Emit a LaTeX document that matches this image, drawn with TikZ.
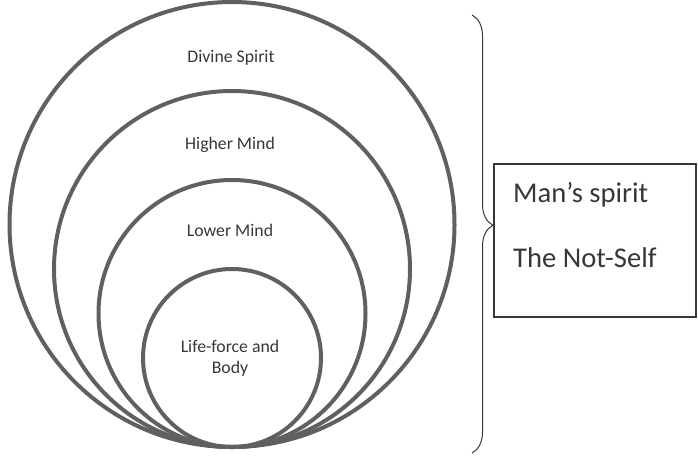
\documentclass[tikz,border=0pt]{standalone}
\usepackage{fontspec}
\setmainfont{Carlito}
\usepackage{tikz}
\usetikzlibrary{decorations.pathreplacing}

\definecolor{ringgray}{RGB}{96,96,96}
\definecolor{inkgray}{RGB}{55,55,55}

\tikzset{
  ring/.style={draw=ringgray, line width=4pt},
  label/.style={text=inkgray, font=\fontsize{17.75}{21}\selectfont, align=center, inner sep=0pt},
  biglabel/.style={text=inkgray, font=\fontsize{28.6}{34}\selectfont, anchor=west, inner sep=0pt},
}

\begin{document}
\begin{tikzpicture}[x=1pt, y=-1pt]
        \useasboundingbox (0,0) rectangle (698,456);
        % nested circles, all touching at the bottom
        \foreach \r in {222.5,178,133.5,89} { \draw [ring] (232,447-\r) circle (\r); }
        \node [label] (divine) at (231,58) {Divine Spirit};
        \node [label] (higher) at (230,145) {Higher Mind};
        \node [label] (lower) at (230,230) {Lower Mind};
        \node [label] (life) at (230,358) {Life-force and\\Body};
        % brace and box
        \coordinate (bracetop) at (472,15);
        \coordinate (bracebot) at (472,453);
        \draw [inkgray, line width=1pt, decorate, decoration={brace, amplitude=21pt, aspect=0.48}] (bracetop) -- (bracebot);
        \node [draw=inkgray, line width=1.2pt, minimum width=202pt, minimum height=153pt, inner sep=0pt] (selfbox) at (595,240.5) {};
        \node [biglabel] (spirit) at (513,195) {Man’s spirit};
        \node [biglabel] (notself) at (513,258) {The Not-Self};
  \end{tikzpicture}
\end{document}
